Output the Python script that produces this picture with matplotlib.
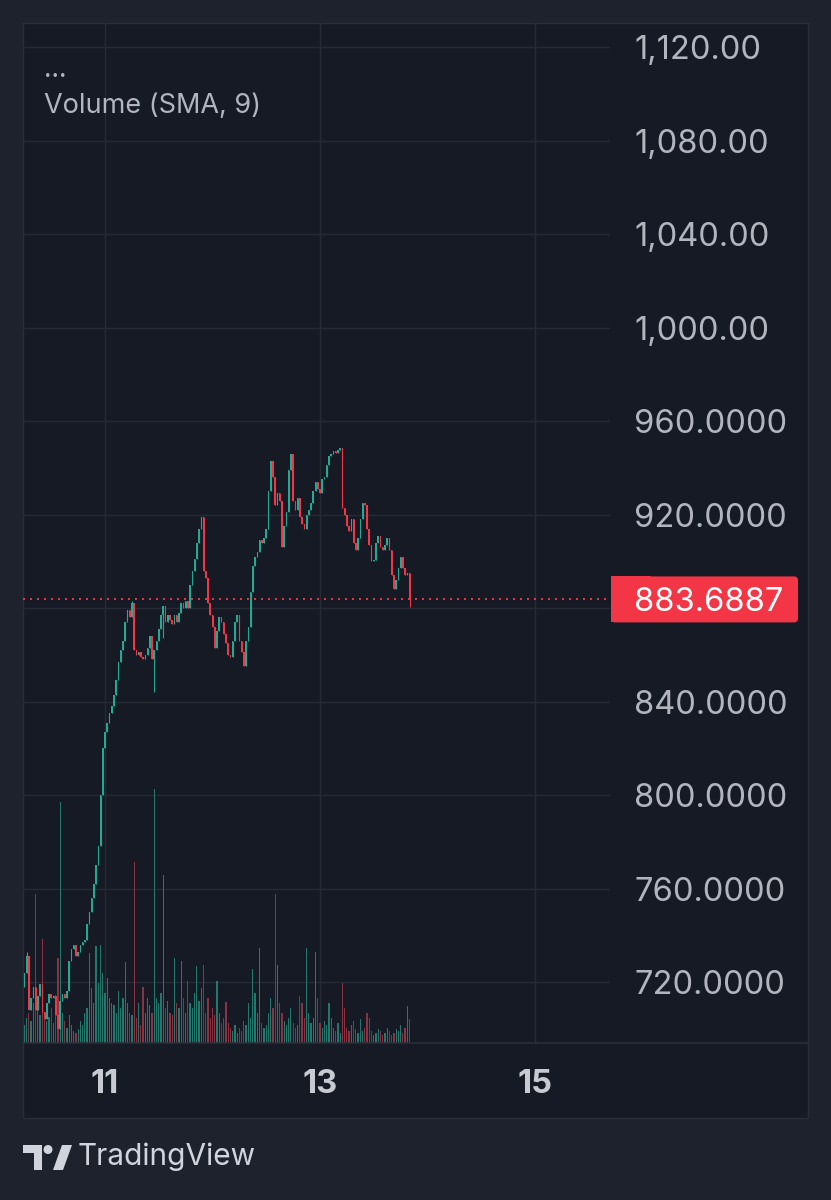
import numpy as np
import matplotlib
matplotlib.use('Agg')
import matplotlib.pyplot as plt
from matplotlib.patches import Rectangle, FancyBboxPatch, Circle, Polygon
from matplotlib.lines import Line2D
from matplotlib.transforms import IdentityTransform, blended_transform_factory
from matplotlib.ticker import FuncFormatter

plt.rcParams['font.family'] = ['Inter', 'DejaVu Sans']

# 30 minute candles, first one at day 10 06:00
start_day = 10.25
first_open = 718
closes = [
    724, 731, 708, 713, 718, 708, 714, 719, 707, 704,
    711, 715, 713, 714, 706, 700, 712, 715, 713, 716,
    729, 734, 736, 731, 733, 736, 737, 738, 745, 750,
    756, 762, 770, 778, 800, 820, 827, 831, 835, 838,
    843, 849, 857, 862, 866, 874, 879, 876, 882, 862,
    860, 861, 859, 858, 860, 863, 868, 858, 862, 866,
    871, 877, 881, 874, 877, 875, 873, 877, 874, 878,
    882, 880, 883, 880, 890, 896, 901, 908, 914, 919,
    896, 893, 882, 877, 872, 863, 870, 876, 874, 869,
    865, 860, 859, 866, 874, 877, 866, 861, 855, 866,
    872, 887, 898, 902, 904, 909, 908, 910, 914, 930,
    943, 936, 924, 929, 926, 906, 915, 921, 939, 946,
    926, 922, 927, 919, 916, 914, 920, 922, 925, 930,
    934, 931, 929, 935, 936, 941, 945, 946, 947, 946.5,
    947.5, 948.5, 923, 920, 915, 913, 918, 908, 905, 910,
    918, 925, 924, 914, 907, 900, 900.5, 908, 911, 906,
    905, 907, 910, 905, 894, 888, 892, 897, 902, 897,
    894, 895, 883.6887,
]
# wick extremes that stand out from the bodies
low_wicks = {58: 844, 172: 880.5, 62: 867}
high_wicks = {1: 733, 48: 883}

volumes = [
    18, 25, 30, 22, 40, 149, 35, 28, 104, 30,
    22, 26, 35, 20, 48, 85, 241, 30, 22, 15,
    28, 18, 12, 10, 14, 22, 18, 30, 35, 90,
    55, 40, 97, 60, 98, 70, 50, 65, 45, 40,
    38, 30, 52, 35, 45, 81, 40, 30, 28, 181,
    25, 40, 18, 56, 30, 45, 38, 30, 254, 45,
    40, 50, 168, 35, 42, 30, 28, 85, 40, 35,
    82, 45, 30, 62, 40, 35, 50, 77, 42, 55,
    78, 30, 45, 25, 35, 28, 62, 30, 20, 25,
    41, 20, 15, 12, 18, 10, 15, 12, 22, 18,
    40, 25, 74, 50, 30, 95, 20, 15, 18, 30,
    45, 35, 149, 78, 40, 30, 22, 18, 25, 35,
    20, 15, 18, 47, 40, 25, 95, 30, 20, 25,
    91, 45, 20, 15, 22, 18, 40, 25, 15, 12,
    20, 10, 60, 35, 15, 12, 18, 22, 14, 10,
    24, 12, 15, 30, 25, 12, 8, 10, 14, 12,
    8, 10, 15, 12, 8, 10, 14, 12, 18, 10,
    15, 37, 24,
]

price_ticks = [720, 760, 800, 840, 880, 920, 960, 1000, 1040, 1080, 1120]
day_ticks = [11, 13, 15]
day_labels = ['11', '13', '15']

BG_OUT = '#1e222d'
BG_IN = '#161a25'
GRID = '#262a35'
UP = '#22ab94'
DOWN = '#f23645'
TXT = '#b2b5be'

W, H = 831, 1200
fig = plt.figure(figsize=(W / 100, H / 100), dpi=100, facecolor=BG_OUT)


def rect(x0, y0, x1, y1):
    return [x0 / W, 1 - y1 / H, (x1 - x0) / W, (y1 - y0) / H]


fig.add_artist(Rectangle((23 / W, 1 - 1118 / H), (808 - 23) / W, (1118 - 23) / H,
                         transform=fig.transFigure, facecolor=BG_IN,
                         edgecolor='#2a2e39', lw=1, zorder=0))
fig.add_artist(Line2D([23 / W, 808 / W], [1 - 1043 / H] * 2, transform=fig.transFigure,
                      color='#2a2e39', lw=1.2, zorder=1))

ax = fig.add_axes(rect(23, 23, 610, 1043))
ax.set_facecolor('none')
for s in ax.spines.values():
    s.set_visible(False)

closes = np.array(closes, dtype=float)
volumes = np.array(volumes, dtype=float)
n = len(closes)
times = start_day + np.arange(n) / 48.0
opens = np.r_[first_open, closes[:-1]]
highs = np.maximum(opens, closes)
lows = np.minimum(opens, closes)
for i, v in low_wicks.items():
    lows[i] = v
for i, v in high_wicks.items():
    highs[i] = v
up = closes >= opens
cols = np.where(up, UP, DOWN)

# volume in the lower quarter of the pane
vol_tr = blended_transform_factory(ax.transData, ax.transAxes)
vcols = np.where(up, '#23786e', '#8a3343')
ax.bar(times, volumes / volumes.max() * 0.249, bottom=0, width=0.55 / 48,
       color=vcols, transform=vol_tr, lw=0, zorder=2)

ax.vlines(times, lows, highs, colors=cols, lw=0.8, zorder=3)
ax.bar(times, np.maximum(np.abs(closes - opens), 0.5), bottom=np.minimum(opens, closes),
       width=0.7 / 48, color=cols, lw=0, zorder=3)

last = closes[-1]
ax.axhline(last, color=DOWN, lw=1.4, ls=(0, (1, 2.6)), zorder=4)

ax.set_xlim(10.237, 15.698)
ax.set_ylim(693.9, 1130.3)
ax.set_xticks(day_ticks)
ax.set_xticklabels(day_labels)
ax.set_yticks(price_ticks)
ax.yaxis.tick_right()
ax.yaxis.set_major_formatter(FuncFormatter(
    lambda v, p: '' if v == 880 else (f'{v:,.2f}' if v >= 1000 else f'{v:.4f}')))
ax.grid(True, color=GRID, lw=1.0, zorder=1)
ax.tick_params(axis='y', length=0, pad=17.3, labelsize=23.5, labelcolor=TXT)
ax.tick_params(axis='x', length=0, pad=19, labelsize=23.5, labelcolor='#c8cad2')
for t in ax.get_xticklabels():
    t.set_fontweight('bold')

# last price tag
y_disp = ax.transData.transform((times[0], last))[1]
fig.add_artist(FancyBboxPatch((614, y_disp - 20), 181, 40, boxstyle='round,pad=3,rounding_size=4',
                              transform=IdentityTransform(), facecolor=DOWN, lw=0, zorder=5))
fig.add_artist(Rectangle((611, y_disp - 23), 40, 46, transform=IdentityTransform(),
                         facecolor=DOWN, lw=0, zorder=5))
fig.text(634 / W, y_disp / H, f'{last:.4f}', ha='left', va='center_baseline',
         color='white', fontsize=23.5, zorder=6)

fig.text(44 / W, 1 - 70 / H, '...', color=TXT, fontsize=19, va='center')
fig.text(44 / W, 1 - 106 / H, 'Volume (SMA, 9)', color=TXT, fontsize=19.5, va='center')

# TradingView logo
logo = '#d1d4dc'
fig.add_artist(Polygon([(23, H - 1145), (42, H - 1145), (42, H - 1170), (34, H - 1170),
                        (34, H - 1153), (23, H - 1153)], closed=True,
                       transform=IdentityTransform(), facecolor=logo, lw=0))
fig.add_artist(Circle((48, H - 1149.5), 4.5, transform=IdentityTransform(), facecolor=logo, lw=0))
fig.add_artist(Polygon([(53, H - 1170), (62, H - 1145), (72, H - 1145), (63, H - 1170)],
                       closed=True, transform=IdentityTransform(), facecolor=logo, lw=0))
fig.text(78 / W, 1 - 1157 / H, 'TradingView', color=logo, fontsize=21.5, va='center')

fig.savefig('out.png', dpi=100, facecolor=fig.get_facecolor())
